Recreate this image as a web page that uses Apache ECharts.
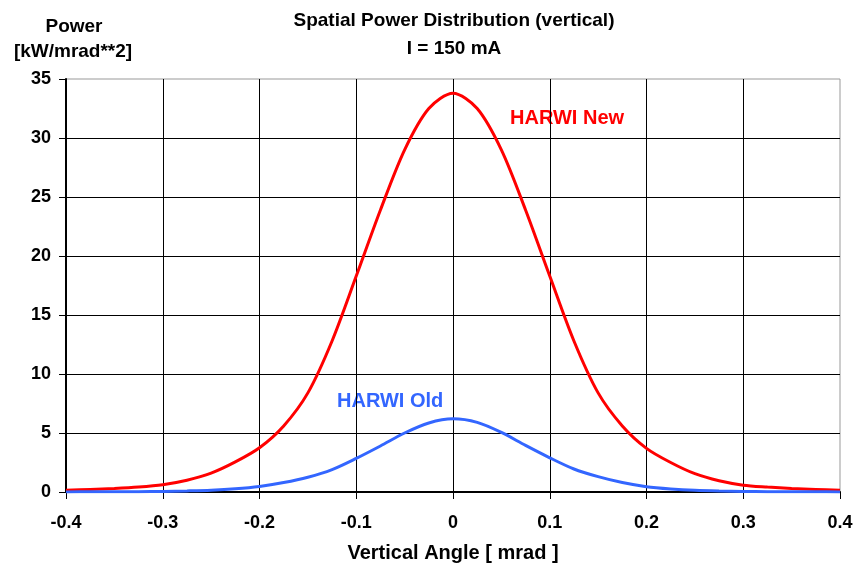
<!DOCTYPE html>
<html lang="en">
<head>
<meta charset="utf-8">
<title>Spatial Power Distribution</title>
<style type="text/css">
  *{padding:0;margin:0;}
  body,html{width:100%;height:100%;background:#fff;}
  #chart{position:absolute;left:0;top:0;width:856px;height:569px;}
</style>
</head>
<body>
<div id="chart"></div>
<script src="https://cdn.jsdelivr.net/npm/echarts@6/dist/echarts.min.js"></script>
<script type="text/javascript">
// vertical angle [mrad]
var angles = [-0.4, -0.375, -0.35, -0.325, -0.3, -0.275, -0.25, -0.225, -0.2, -0.175, -0.15, -0.125, -0.1, -0.075, -0.05, -0.025,
  0, 0.025, 0.05, 0.075, 0.1, 0.125, 0.15, 0.175, 0.2, 0.225, 0.25, 0.275, 0.3, 0.325, 0.35, 0.375, 0.4];
// power [kW/mrad**2]
var harwiNew = [0.15, 0.22, 0.3, 0.42, 0.62, 1.0, 1.6, 2.55, 3.75, 5.6, 8.4, 12.8, 18.3, 23.9, 29.0, 32.5,
  33.8, 32.5, 29.0, 23.9, 18.3, 12.8, 8.4, 5.6, 3.7, 2.5, 1.55, 0.95, 0.58, 0.42, 0.3, 0.22, 0.15];
var harwiOld = [0.01, 0.015, 0.02, 0.03, 0.05, 0.09, 0.15, 0.27, 0.47, 0.8, 1.25, 1.9, 2.85, 3.9, 5.0, 5.85,
  6.2, 5.9, 5.05, 3.95, 2.9, 1.95, 1.3, 0.8, 0.45, 0.26, 0.14, 0.08, 0.05, 0.03, 0.02, 0.015, 0.01];

var toPairs = function (xs, ys) {
  var res = [];
  for (var i = 0; i < xs.length; i++) res.push([xs[i], ys[i]]);
  return res;
};

var font = '"Liberation Sans", Arial, sans-serif';
var myChart = echarts.init(document.getElementById('chart'));
var option = {
  backgroundColor: '#fff',
  animation: false,
  grid: {
    left: 66, right: 16, top: 79, bottom: 77, outerBoundsMode: 'none',
    show: true, borderColor: '#999', borderWidth: 1
  },
  title: {
    text: 'Spatial Power Distribution (vertical)\nI = 150 mA',
    left: 449, top: 2, textAlign: 'center',
    textStyle: {fontFamily: font, fontWeight: 'bold', fontSize: 19, color: '#000', lineHeight: 28}
  },
  xAxis: {
    type: 'value', min: -0.4, max: 0.4, interval: 0.1,
    name: 'Vertical Angle [ mrad ]', nameLocation: 'middle', nameGap: 51,
    nameTextStyle: {fontFamily: font, fontWeight: 'bold', fontSize: 20, color: '#000'},
    axisLine: {onZero: false, lineStyle: {color: '#000', width: 2}},
    axisTick: {show: true, length: 7, lineStyle: {color: '#000', width: 1}},
    axisLabel: {
      margin: 22, fontFamily: font, fontWeight: 'bold', fontSize: 18, color: '#000',
      formatter: function (v) { return Math.abs(v) < 1e-9 ? '0' : v.toFixed(1); }
    },
    splitLine: {show: true, showMinLine: false, showMaxLine: false, lineStyle: {color: '#000', width: 1}}
  },
  yAxis: {
    type: 'value', min: 0, max: 35, interval: 5,
    axisLine: {show: true, onZero: false, lineStyle: {color: '#000', width: 2}},
    axisTick: {show: true, length: 7, lineStyle: {color: '#000', width: 1}},
    axisLabel: {margin: 15, fontFamily: font, fontWeight: 'bold', fontSize: 18, color: '#000'},
    splitLine: {show: true, showMinLine: false, showMaxLine: false, lineStyle: {color: '#000', width: 1}}
  },
  graphic: [
    {type: 'text', x: 74, y: 27, style: {text: 'Power', align: 'center', verticalAlign: 'middle',
      fill: '#000', font: 'bold 19px ' + font}},
    {type: 'text', x: 73, y: 52, style: {text: '[kW/mrad**2]', align: 'center', verticalAlign: 'middle',
      fill: '#000', font: 'bold 19px ' + font}},
    {type: 'text', x: 510, y: 118, style: {text: 'HARWI New', align: 'left', verticalAlign: 'middle',
      fill: '#ff0000', font: 'bold 20px ' + font}},
    {type: 'text', x: 337, y: 401, style: {text: 'HARWI Old', align: 'left', verticalAlign: 'middle',
      fill: '#3366ff', font: 'bold 20px ' + font}}
  ],
  series: [
    {
      name: 'HARWI New', type: 'line', data: toPairs(angles, harwiNew),
      smooth: 0.3, showSymbol: false, lineStyle: {color: '#ff0000', width: 3}
    },
    {
      name: 'HARWI Old', type: 'line', data: toPairs(angles, harwiOld),
      smooth: 0.3, showSymbol: false, lineStyle: {color: '#3366ff', width: 3}
    }
  ]
};
myChart.setOption(option);
</script>
</body>
</html>
